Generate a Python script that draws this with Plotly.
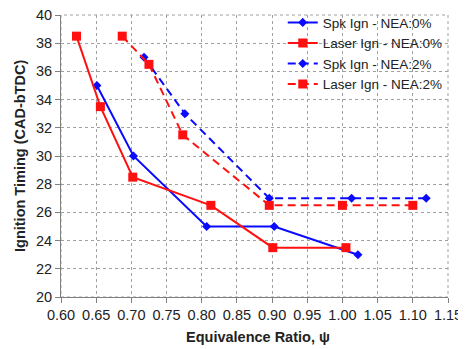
import plotly.graph_objects as go

spk0_x = [0.651, 0.703, 0.807, 0.903, 1.022]
spk0_y = [35.0, 30.0, 25.0, 25.0, 23.0]
las0_x = [0.622, 0.656, 0.702, 0.813, 0.901, 1.005]
las0_y = [38.5, 33.5, 28.5, 26.5, 23.5, 23.5]
spk2_x = [0.718, 0.776, 0.896, 1.013, 1.119]
spk2_y = [37.0, 33.0, 27.0, 27.0, 27.0]
las2_x = [0.687, 0.725, 0.773, 0.896, 1.000, 1.100]
las2_y = [38.5, 36.5, 31.5, 26.5, 26.5, 26.5]

names = ["Spk Ign - NEA:0%", "Laser Ign - NEA:0%", "Spk Ign - NEA:2%", "Laser Ign - NEA:2%"]
x_ticks = [0.60, 0.65, 0.70, 0.75, 0.80, 0.85, 0.90, 0.95, 1.00, 1.05, 1.10, 1.15]
x_ticktext = ["0.60", "0.65", "0.70", "0.75", "0.80", "0.85", "0.90", "0.95", "1.00", "1.05", "1.10", "1.15"]
x_title = "Equivalence Ratio, ψ"
y_title = "Ignition Timing (CAD-bTDC)"

BLUE = "#0a0aff"
RED = "#ff1010"
DASH = "8px,5px"

fig = go.Figure()
fig.add_trace(go.Scatter(x=spk0_x, y=spk0_y, name=names[0], mode="lines+markers",
                         line=dict(color=BLUE, width=2), marker=dict(symbol="diamond", size=7, color=BLUE)))
fig.add_trace(go.Scatter(x=las0_x, y=las0_y, name=names[1], mode="lines+markers",
                         line=dict(color=RED, width=2), marker=dict(symbol="square", size=9, color=RED)))
fig.add_trace(go.Scatter(x=spk2_x, y=spk2_y, name=names[2], mode="lines+markers",
                         line=dict(color=BLUE, width=2, dash=DASH), marker=dict(symbol="diamond", size=7, color=BLUE)))
fig.add_trace(go.Scatter(x=las2_x, y=las2_y, name=names[3], mode="lines+markers",
                         line=dict(color=RED, width=2, dash=DASH), marker=dict(symbol="square", size=9, color=RED)))

axis_common = dict(showgrid=True, gridcolor="#a0a0a0", griddash="dot", gridwidth=1,
                   showline=True, linecolor="#808080", linewidth=1, mirror=False,
                   ticks="outside", ticklen=5, tickcolor="#808080",
                   tickfont=dict(family="Arial, Liberation Sans", size=14.5, color="#222"),
                   zeroline=False, automargin=False, ticklabeloverflow="allow")

# page body has an 8px margin, so the figure is sized/positioned to compensate
fig.update_layout(
    width=458, height=341,
    margin=dict(l=53, r=18, t=7, b=52, autoexpand=False),
    paper_bgcolor="white", plot_bgcolor="white",
    font=dict(family="Arial, Liberation Sans", size=14, color="#222"),
    xaxis=dict(range=[0.6, 1.15], tickmode="array", tickvals=x_ticks, ticktext=x_ticktext,
               **axis_common),
    yaxis=dict(range=[20, 40], dtick=2, **axis_common),
    legend=dict(x=0.573, y=1.028, xanchor="left", yanchor="top",
                bgcolor="rgba(255,255,255,0)",
                font=dict(size=13.5), tracegroupgap=0, itemwidth=30),
    showlegend=True,
)
fig.add_annotation(text="<b>" + x_title + "</b>", xref="paper", yref="paper", x=0.508, y=0,
                   xanchor="center", yanchor="middle", yshift=-40, showarrow=False,
                   font=dict(size=14.5, color="#222"))
fig.add_annotation(text="<b>" + y_title + "</b>", xref="paper", yref="paper", x=0, y=0.5,
                   xanchor="center", yanchor="middle", xshift=-41, textangle=-90, showarrow=False,
                   font=dict(size=14.5, color="#222"))
fig.add_shape(type="rect", xref="paper", yref="paper", x0=0, y0=0, x1=1, y1=1,
              line=dict(color="#a0a0a0", width=1, dash="dot"), layer="below")

fig.write_html("out.html")
